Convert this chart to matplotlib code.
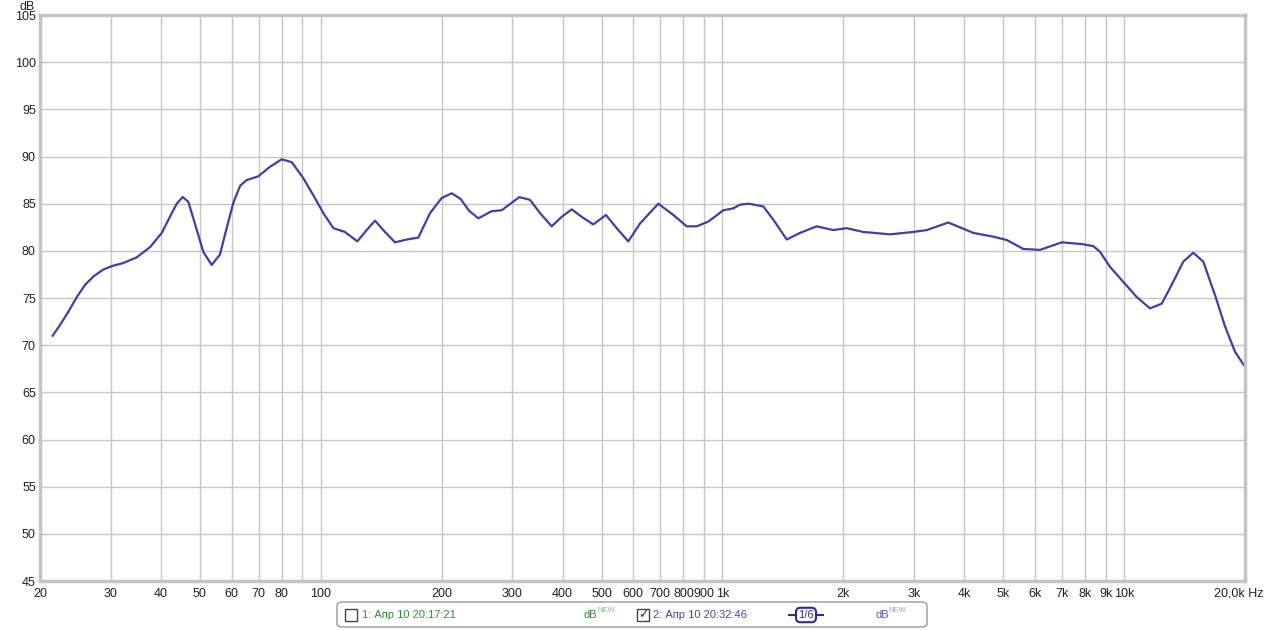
import matplotlib
matplotlib.use("Agg")
from matplotlib import pyplot as plt
from matplotlib.patches import FancyBboxPatch, Rectangle

plt.rcParams['font.family'] = ['Liberation Sans', 'DejaVu Sans']

# frequency response readings (Hz, dB)
freqs = [21.5, 22.4, 23.5, 24.7, 25.9, 27.2, 28.7, 30.3, 32.2, 34.8, 37.6, 40.2,
         42.1, 43.8, 45.3, 46.8, 48.6, 51.0, 53.5, 56.1, 58.3, 60.6, 63.0, 65.4,
         69.9, 74.7, 79.9, 84.7, 90.5, 95.8, 101.5, 107.5, 114.9, 123.3, 130.1,
         136.5, 143.1, 153.0, 163.7, 174.9, 187.1, 200.0, 211.9, 223.0, 234.0,
         246.7, 266.4, 282.1, 312.1, 331.9, 351.5, 375.8, 398.0, 421.4, 446.3,
         477.0, 513.0, 545.6, 583.0, 623.5, 692.4, 754.6, 814.9, 862.9, 922.3,
         1005, 1064, 1106, 1165, 1264, 1339, 1446, 1560, 1717, 1888, 2039, 2243,
         2613, 2987, 3226, 3651, 4214, 4725, 5102, 5612, 6176, 6993, 7914, 8382,
         8710, 9226, 9957, 10752, 11603, 12408, 13140, 14040, 14870, 15748,
         16842, 17834, 18888, 20000]
levels = [71.0, 72.1, 73.5, 75.1, 76.4, 77.3, 78.0, 78.4, 78.7, 79.3, 80.4, 81.9,
          83.6, 85.0, 85.7, 85.2, 82.9, 79.9, 78.5, 79.6, 82.4, 85.1, 86.9, 87.5,
          87.9, 88.9, 89.7, 89.4, 87.7, 85.9, 84.0, 82.4, 82.0, 81.0, 82.2,
          83.2, 82.2, 80.9, 81.2, 81.4, 84.0, 85.6, 86.1, 85.5, 84.25,
          83.45, 84.2, 84.3, 85.7, 85.4, 84.0, 82.6, 83.6, 84.4, 83.6,
          82.8, 83.8, 82.4, 81.0, 82.9, 85.0, 83.8, 82.6, 82.6, 83.1,
          84.3, 84.5, 84.9, 85.0, 84.7, 83.3, 81.2, 81.9, 82.6, 82.2, 82.4, 82.0,
          81.75, 82.0, 82.2, 83.0, 81.9, 81.5, 81.15, 80.2, 80.1, 80.9, 80.7, 80.5,
          79.9, 78.3, 76.7, 75.1, 73.9, 74.4, 76.4, 78.85, 79.8, 78.85,
          75.3, 72.0, 69.3, 67.7]

grid_freqs = [20, 30, 40, 50, 60, 70, 80, 90, 100, 200, 300, 400, 500, 600, 700,
              800, 900, 1000, 2000, 3000, 4000, 5000, 6000, 7000, 8000, 9000,
              10000, 20000]
grid_labels = ['20', '30', '40', '50', '60', '70', '80', '', '100', '200', '300',
               '400', '500', '600', '700', '800', '900', '1k', '2k', '3k', '4k',
               '5k', '6k', '7k', '8k', '9k', '10k', '']
db_ticks = list(range(45, 106, 5))

fig = plt.figure(figsize=(12.65, 6.3), dpi=100)
W, H = 1265, 630
ax = fig.add_axes([40 / W, 1 - 581 / H, 1205 / W, 566 / H])

ax.plot(freqs, levels, color='#3f3fa6', lw=1.6, solid_joinstyle='round')

ax.set_xscale('log')
ax.set_xlim(20, 20000)
ax.set_ylim(45, 105)
ax.set_xticks(grid_freqs)
ax.set_xticklabels(grid_labels)
ax.minorticks_off()
ax.set_yticks(db_ticks)
ax.grid(True, color='#c6c6c6', lw=1)
ax.tick_params(length=0, labelsize=9, colors='#222222')
ax.tick_params(axis='x', pad=5)
ax.tick_params(axis='y', pad=3)
for s in ax.spines.values():
    s.set_color('#c4c4c4')
    s.set_linewidth(2.5)

fig.text(27 / W, 1 - 7 / H, 'dB', fontsize=9, ha='center', va='center', color='#222222')
fig.text(1263 / W, 1 - 593 / H, '20,0k Hz', fontsize=9, ha='right', va='center',
         color='#222222')

# legend bar below the chart
fig.patches.append(FancyBboxPatch((337 / W, 1 - 627 / H), 590 / W, 25 / H,
                                  boxstyle='round,pad=0,rounding_size=0.005',
                                  transform=fig.transFigure, fc='white',
                                  ec='#9a9a9a', lw=1))
yc = 1 - 615 / H
fig.patches.append(Rectangle((345 / W, 1 - 621 / H), 12 / W, 12 / H,
                             transform=fig.transFigure, fc='white', ec='#444444', lw=1))
fig.text(362 / W, yc, '1: Апр 10 20:17:21', fontsize=8, color='#2e8b2e', va='center')
fig.text(584 / W, yc, 'dB', fontsize=8, color='#2e8b2e', va='center')
fig.text(597 / W, yc + 4 / H, 'NEW', fontsize=5.5, color='#7fbf7f', va='center')
fig.patches.append(Rectangle((637 / W, 1 - 621 / H), 12 / W, 12 / H,
                             transform=fig.transFigure, fc='white', ec='#444444', lw=1))
fig.text(643 / W, yc, '✓', fontsize=9, color='#333333', ha='center', va='center',
         family=['DejaVu Sans'])
fig.text(653 / W, yc, '2: Апр 10 20:32:46', fontsize=8, color='#4545a8', va='center')
fig.add_artist(plt.Line2D([789 / W, 823 / W], [yc, yc], transform=fig.transFigure,
                          color='#2b2b9a', lw=1.5))
fig.text(806 / W, yc, '1/6', fontsize=8, color='#2b2b9a', ha='center', va='center',
         bbox=dict(boxstyle='round,pad=0.2,rounding_size=0.4', fc='white',
                   ec='#2b2b9a', lw=1.5))
fig.text(875 / W, yc, 'dB', fontsize=8, color='#5858b8', va='center')
fig.text(888 / W, yc + 4 / H, 'NEW', fontsize=5.5, color='#9a9ad8', va='center')

fig.savefig('out.png', dpi=100, facecolor='white')
